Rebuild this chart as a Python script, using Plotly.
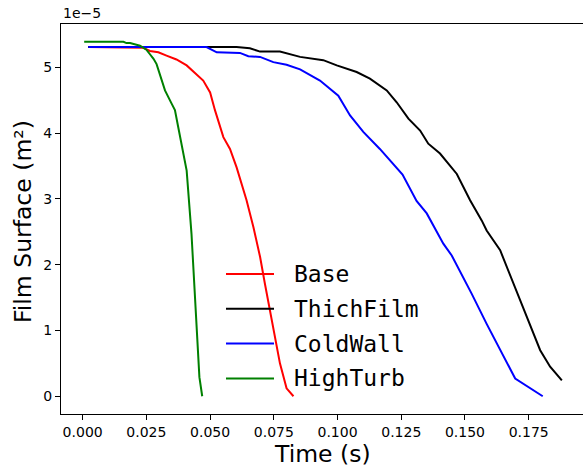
import plotly.graph_objects as go

# Time (s) and film surface (units of 1e-5 m^2)
base_t = [0.0022, 0.0150, 0.0237, 0.0264, 0.0297, 0.0329, 0.0368, 0.0408, 0.0447, 0.0473, 0.0500,
          0.0519, 0.0552, 0.0578, 0.0604, 0.0643, 0.0670, 0.0696, 0.0715, 0.0735, 0.0755, 0.0774,
          0.0800, 0.0827]
base_v = [5.31, 5.31, 5.30, 5.25, 5.23, 5.18, 5.12, 5.03, 4.90, 4.80, 4.62,
          4.35, 3.94, 3.76, 3.48, 2.98, 2.57, 2.12, 1.71, 1.31, 0.90, 0.50,
          0.12, 0.0]

thick_t = [0.0022, 0.0300, 0.0604, 0.0656, 0.0696, 0.0774, 0.0853, 0.0944, 0.0997, 0.1075,
           0.1127, 0.1193, 0.1232, 0.1278, 0.1324, 0.1356, 0.1402, 0.1468, 0.1520, 0.1566,
           0.1585, 0.1638, 0.1690, 0.1743, 0.1795, 0.1834, 0.1880]
thick_v = [5.31, 5.31, 5.31, 5.29, 5.24, 5.24, 5.16, 5.11, 5.03, 4.93,
           4.83, 4.65, 4.47, 4.22, 4.04, 3.84, 3.69, 3.38, 2.98, 2.67,
           2.52, 2.22, 1.71, 1.21, 0.70, 0.45, 0.24]

cold_t = [0.0022, 0.0300, 0.0486, 0.0526, 0.0617, 0.0650, 0.0696, 0.0748, 0.0800, 0.0853,
          0.0931, 0.1003, 0.1049, 0.1101, 0.1166, 0.1255, 0.1310, 0.1350, 0.1415, 0.1448,
          0.1494, 0.1526, 0.1585, 0.1638, 0.1697, 0.1805]
cold_v = [5.31, 5.31, 5.31, 5.23, 5.22, 5.17, 5.16, 5.08, 5.04, 4.97,
          4.80, 4.57, 4.27, 4.02, 3.76, 3.37, 2.97, 2.78, 2.32, 2.14,
          1.81, 1.56, 1.10, 0.70, 0.27, 0.0]

turb_t = [0.0006, 0.0160, 0.0172, 0.0186, 0.0225, 0.0250, 0.0264, 0.0278, 0.0290, 0.0303,
          0.0323, 0.0349, 0.0362, 0.0375, 0.0388, 0.0408, 0.0427, 0.0438, 0.0447, 0.0458,
          0.0469]
turb_v = [5.39, 5.39, 5.37, 5.37, 5.33, 5.27, 5.20, 5.13, 5.05, 4.90,
          4.65, 4.45, 4.35, 4.09, 3.84, 3.43, 2.47, 1.71, 0.96, 0.29,
          0.0]

series_names = ["Base", "ThichFilm", "ColdWall", "HighTurb"]
series_t = [base_t, thick_t, cold_t, turb_t]
series_v = [base_v, thick_v, cold_v, turb_v]
series_colors = ["#ff0000", "#000000", "#0000ff", "#008000"]

x_ticks = [0.0, 0.025, 0.05, 0.075, 0.1, 0.125, 0.15, 0.175]
y_ticks = [0, 1, 2, 3, 4, 5]

W, H = 583, 470
ML, MR, MT, MB = 61, 0, 24, 56
PW, PH = W - ML - MR, H - MT - MB

fig = go.Figure()
for name, t, v, c in zip(series_names, series_t, series_v, series_colors):
    fig.add_trace(go.Scatter(x=t, y=v, mode="lines", name=name,
                             line=dict(color=c, width=2), showlegend=False))

# Legend drawn as line samples + text (matplotlib style)
shapes = []
annotations = []
leg_x0, leg_len, leg_gap = 226, 48, 18
leg_y0, leg_dy = 274, 34.8
for i, (name, c) in enumerate(zip(series_names, series_colors)):
    yp = leg_y0 + i * leg_dy
    yy = 1 - (yp - MT) / PH
    shapes.append(dict(type="line", xref="paper", yref="paper",
                       x0=(leg_x0 - ML) / PW, x1=(leg_x0 + leg_len - ML) / PW,
                       y0=yy, y1=yy, line=dict(color=c, width=2)))
    annotations.append(dict(text=name, xref="paper", yref="paper",
                            x=(leg_x0 + leg_len + leg_gap - ML) / PW, y=yy,
                            xanchor="left", yanchor="middle", showarrow=False,
                            font=dict(family="DejaVu Sans Mono", size=23, color="black")))

tickfont = dict(family="DejaVu Sans", size=14, color="black")
titlefont = dict(family="DejaVu Sans", size=23.5, color="black")

annotations.append(dict(text="1e\u22125", x=0, y=1, xref="paper", yref="paper",
                        xanchor="left", yanchor="bottom", showarrow=False, yshift=1,
                        font=dict(family="DejaVu Sans", size=14, color="black")))
annotations.append(dict(text="Time (s)", x=0.5, y=-(454 - (MT + PH)) / PH, xref="paper", yref="paper",
                        xanchor="center", yanchor="middle", showarrow=False, font=titlefont))
annotations.append(dict(text="Film Surface (m²)", x=-(ML - 23) / PW, y=1 - (222 - MT) / PH,
                        xref="paper", yref="paper",
                        xanchor="center", yanchor="middle", showarrow=False, textangle=-90,
                        font=titlefont))

fig.update_layout(
    width=W, height=H,
    margin=dict(l=ML, r=MR, t=MT, b=MB, autoexpand=False),
    plot_bgcolor="white", paper_bgcolor="white",
    showlegend=False,
    shapes=shapes,
    annotations=annotations,
    xaxis=dict(range=[-0.0085, 0.1963], tickvals=x_ticks, tickformat=".3f",
               showline=True, linecolor="black", linewidth=1, mirror=True,
               ticks="outside", ticklen=5, tickcolor="black", showgrid=False, zeroline=False,
               tickfont=tickfont, automargin=False),
    yaxis=dict(range=[-0.27, 5.66], tickvals=y_ticks,
               showline=True, linecolor="black", linewidth=1, mirror=False,
               ticks="outside", ticklen=5, tickcolor="black", showgrid=False, zeroline=False,
               tickfont=tickfont, automargin=False),
)

fig.write_html("out.html", config={"displayModeBar": False},
               post_script="document.body.style.margin='0';document.body.style.overflow='hidden';")
